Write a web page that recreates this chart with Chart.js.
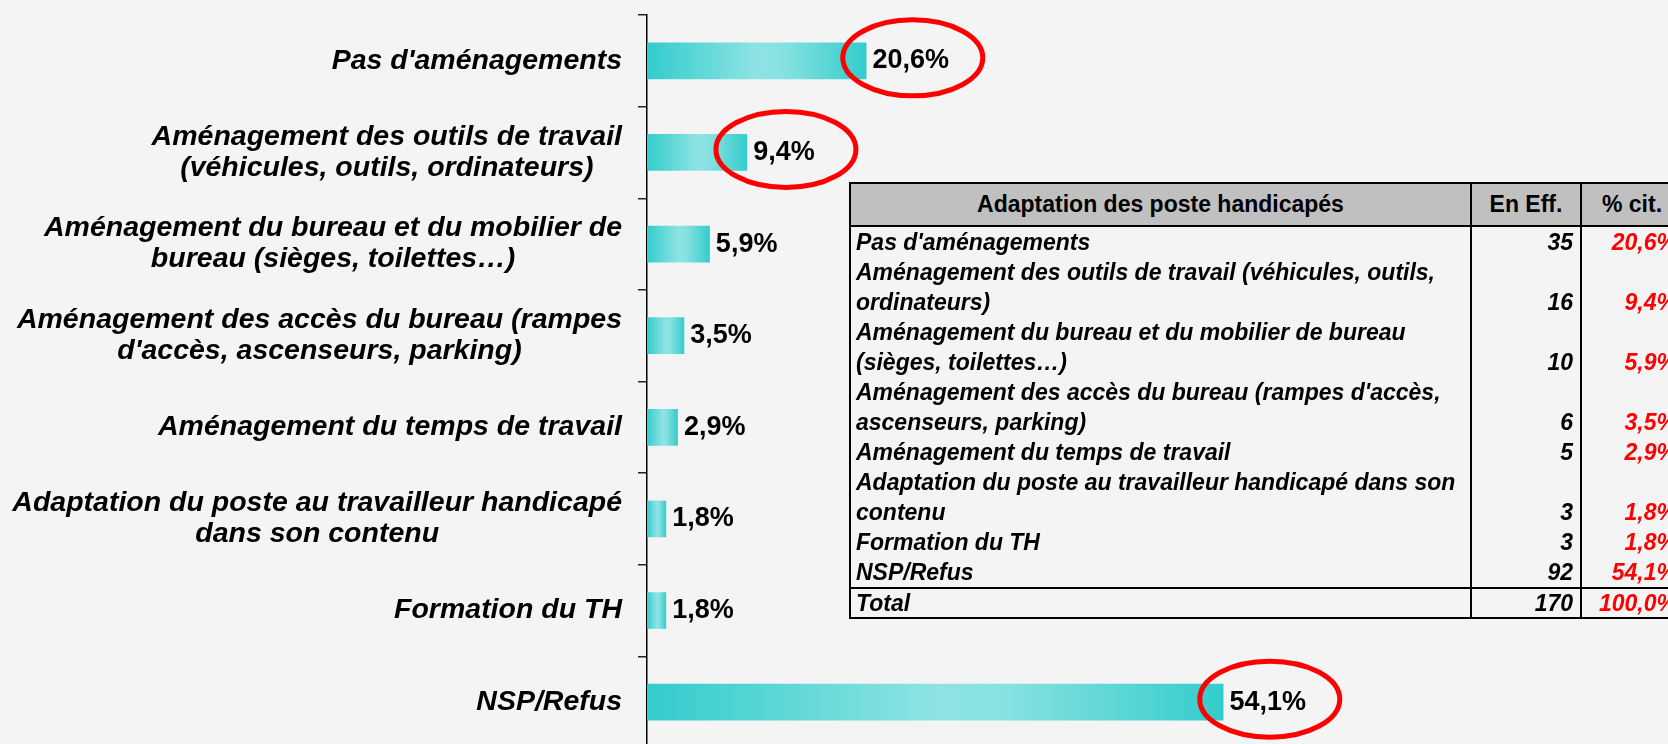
<!DOCTYPE html>
<html lang="fr">
<head>
<meta charset="utf-8">
<title>Adaptation des postes handicapés</title>
<script src="https://cdn.jsdelivr.net/npm/chart.js@4.4.1/dist/chart.umd.min.js"></script>
<style>
  html, body { margin: 0; padding: 0; background: #f4f4f4; overflow: hidden; }
  #wrap { position: relative; width: 1668px; height: 744px; overflow: hidden; }
  #box { position: absolute; left: 0; top: 0; width: 1668px; height: 748px; }
  #tab {
    position: absolute; left: 849px; top: 182px; width: 833px;
    border-collapse: collapse; table-layout: fixed;
    font-family: "Liberation Sans", Arial, sans-serif; font-size: 23px; color: #000;
    border: 2px solid #000;
  }
  #tab th {
    background: #c0c0c0; font-weight: bold; height: 41px; padding: 0;
    border: 2px solid #000; text-align: center; vertical-align: middle;
  }
  #tab td {
    font-weight: bold; font-style: italic; line-height: 30px; padding: 0 5px;
    vertical-align: bottom; white-space: pre; overflow: hidden;
    border-left: 2px solid #000; border-right: 2px solid #000;
  }
  #tab td.num { text-align: right; padding-right: 7px; }
  #tab td.pct { text-align: right; color: #ff0000; padding-right: 5px; }
  #tab tr.total td { border-top: 2.5px solid #000; line-height: 28px; }
</style>
</head>
<body>
<div id="wrap">
  <div id="box"><canvas id="chart"></canvas></div>
  <table id="tab">
    <colgroup><col style="width:621px"><col style="width:110px"><col style="width:102px"></colgroup>
    <thead><tr><th>Adaptation des poste handicapés</th><th>En Eff.</th><th>% cit.</th></tr></thead>
    <tbody id="tbody"></tbody>
  </table>
</div>
<script>
// libellés du graphique (découpés comme dans l'original)
var categories = [
  "Pas d'aménagements",
  ["Aménagement des outils de travail", "(véhicules, outils, ordinateurs)"],
  ["Aménagement du bureau et du mobilier de", "bureau (sièges, toilettes…)"],
  ["Aménagement des accès du bureau (rampes", "d'accès, ascenseurs, parking)"],
  "Aménagement du temps de travail",
  ["Adaptation du poste au travailleur handicapé", "dans son contenu"],
  "Formation du TH",
  "NSP/Refus"
];

// % cités
var percentages = [20.6, 9.4, 5.9, 3.5, 2.9, 1.8, 1.8, 54.1];

// effectifs du tableau
var counts = [35, 16, 10, 6, 5, 3, 3, 92];
var totalCount = 170;
var totalPct = 100.0;

// libellés du tableau
var tableLabels = [
  "Pas d'aménagements",
  "Aménagement des outils de travail (véhicules, outils,\nordinateurs)",
  "Aménagement du bureau et du mobilier de bureau\n(sièges, toilettes…)",
  "Aménagement des accès du bureau (rampes d'accès,\nascenseurs, parking)",
  "Aménagement du temps de travail",
  "Adaptation du poste au travailleur handicapé dans son\ncontenu",
  "Formation du TH",
  "NSP/Refus"
];

// barres entourées en rouge
var circled = [0, 1, 7];

function fmt(v) {
  return v.toFixed(1).replace('.', ',') + '%';
}

// remplir le tableau
var tbody = document.getElementById('tbody');
tableLabels.forEach(function(lab, i) {
  var tr = document.createElement('tr');
  tr.innerHTML = '<td></td><td class="num">' + counts[i] + '</td><td class="pct">' + fmt(percentages[i]) + '</td>';
  tr.firstChild.textContent = lab;
  tbody.appendChild(tr);
});
var trTot = document.createElement('tr');
trTot.className = 'total';
trTot.innerHTML = '<td>Total</td><td class="num">' + totalCount + '</td><td class="pct">' + fmt(totalPct) + '</td>';
tbody.appendChild(trTot);

var FONT = '"Liberation Sans", Arial, sans-serif';

// libellés de l'axe Y : bloc aligné à droite, lignes centrées
var yLabelPlugin = {
  id: 'yLabels',
  afterDraw: function(chart) {
    var ys = chart.scales.y;
    var ctx = chart.ctx;
    ctx.save();
    ctx.font = 'italic bold 28.5px ' + FONT;
    ctx.fillStyle = '#000';
    ctx.textBaseline = 'middle';
    ctx.textAlign = 'center';
    var right = ys.right - 25;
    var lh = 31;
    categories.forEach(function(lab, i) {
      var lines = Array.isArray(lab) ? lab : [lab];
      var w = Math.max.apply(null, lines.map(function(l) { return ctx.measureText(l).width; }));
      var cx = right - w / 2;
      var y0 = ys.getPixelForValue(i) - (lines.length - 1) * lh / 2;
      lines.forEach(function(l, k) { ctx.fillText(l, cx, y0 + k * lh); });
    });
    ctx.restore();
  }
};

// valeurs au bout des barres + ellipses rouges
var barLabelPlugin = {
  id: 'barLabels',
  afterDatasetsDraw: function(chart) {
    var ctx = chart.ctx;
    var meta = chart.getDatasetMeta(0);
    ctx.save();
    ctx.font = 'bold 27px ' + FONT;
    ctx.fillStyle = '#000';
    ctx.textBaseline = 'middle';
    ctx.textAlign = 'left';
    meta.data.forEach(function(bar, i) {
      var txt = fmt(percentages[i]);
      ctx.fillText(txt, bar.x + 6, bar.y);
      if (circled.indexOf(i) !== -1) {
        var w = ctx.measureText(txt).width;
        ctx.beginPath();
        ctx.ellipse(bar.x + 6 + w / 2 + 2, bar.y - 3, 70, 38, 0, 0, Math.PI * 2);
        ctx.strokeStyle = '#ff0000';
        ctx.lineWidth = 5;
        ctx.stroke();
      }
    });
    ctx.restore();
  }
};

// dégradé horizontal dans chaque barre
function barGradient(context) {
  var chart = context.chart;
  if (!chart.chartArea || context.raw === undefined) return '#33cccc';
  var xs = chart.scales.x;
  var x0 = xs.getPixelForValue(0);
  var x1 = xs.getPixelForValue(context.raw);
  var g = chart.ctx.createLinearGradient(x0, 0, x1, 0);
  g.addColorStop(0, '#33cccc');
  g.addColorStop(0.5, '#8ee3e3');
  g.addColorStop(0.62, '#88e1e1');
  g.addColorStop(1, '#33cccc');
  return g;
}

new Chart(document.getElementById('chart'), {
  type: 'bar',
  data: {
    labels: categories,
    datasets: [{
      data: percentages,
      backgroundColor: barGradient,
      borderWidth: 0,
      barPercentage: 0.4,
      categoryPercentage: 1
    }]
  },
  options: {
    indexAxis: 'y',
    responsive: true,
    maintainAspectRatio: false,
    animation: false,
    devicePixelRatio: 1,
    layout: { padding: { top: 15, right: 62, bottom: 0, left: 0 } },
    plugins: { legend: { display: false }, tooltip: { enabled: false } },
    scales: {
      x: { min: 0, max: 90, display: false },
      y: {
        grid: { drawOnChartArea: false, drawTicks: true, tickLength: 9, color: '#222', lineWidth: 1.5 },
        border: { display: true, color: '#000', width: 1.5 },
        ticks: { display: false },
        afterFit: function(scale) { scale.width = 647; }
      }
    }
  },
  plugins: [yLabelPlugin, barLabelPlugin]
});
</script>
</body>
</html>
